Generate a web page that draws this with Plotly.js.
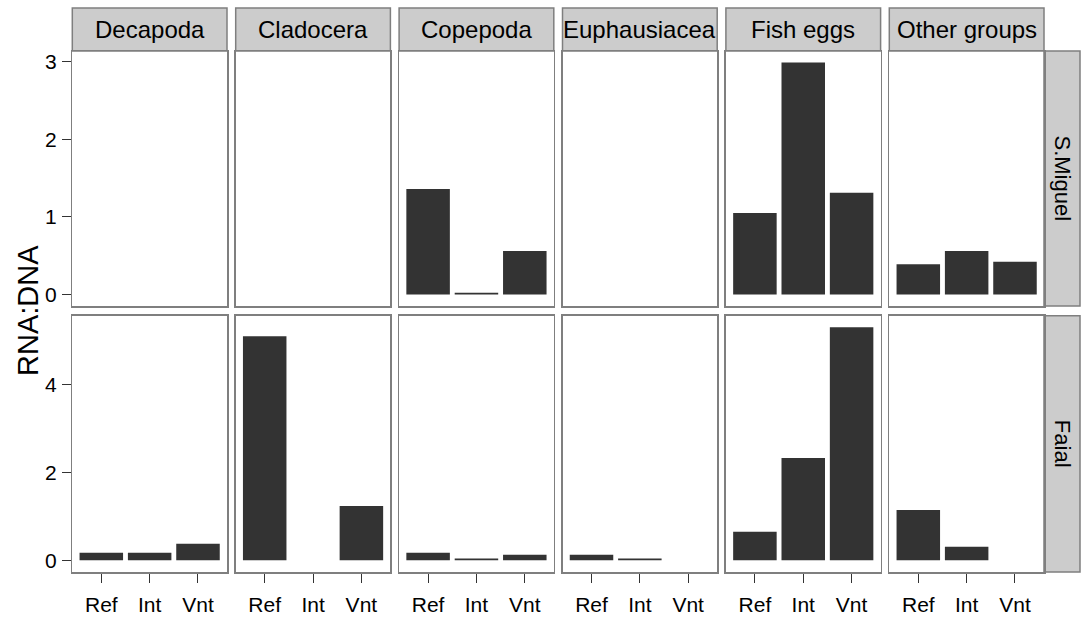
<!DOCTYPE html>
<html>
<head>
<meta charset="utf-8">
<script src="https://cdn.plot.ly/plotly-3.0.1.min.js"></script>
<style>html,body{margin:0;padding:0;background:#fff;}#chart{width:1081px;height:621px;}</style>
</head>
<body>
<div id="chart"></div>
<script>
// ---- data ----
const categories = ["Ref", "Int", "Vnt"];
const groups = ["Decapoda", "Cladocera", "Copepoda", "Euphausiacea", "Fish eggs", "Other groups"];
const sites = ["S.Miguel", "Faial"];
// RNA:DNA values per group (Ref, Int, Vnt); null = no bar
const sMiguelValues = [
  [null, null, null],
  [null, null, null],
  [1.36, 0.02, 0.56],
  [null, null, null],
  [1.05, 2.99, 1.31],
  [0.39, 0.56, 0.42]
];
const faialValues = [
  [0.175, 0.175, 0.38],
  [5.11, null, 1.24],
  [0.175, 0.045, 0.13],
  [0.13, 0.045, null],
  [0.65, 2.33, 5.31],
  [1.15, 0.31, null]
];
const rowValues = [sMiguelValues, faialValues];
const yTickSteps = [1, 2];
const yTitle = "RNA:DNA";

// ---- layout geometry (pixels) ----
const W = 1081, H = 621;
const colLeft0 = 72.3, colStride = 163.4, colWidth = 154.7;
const rowTop = [51, 315.7], rowBottom = [306, 572];
const stripTop = 8, rightStripLeft = 1044, rightStripRight = 1080;
const px = v => v / W;
const py = v => (H - v) / H;

const FONT = "Liberation Sans, Arial, Helvetica, sans-serif";
const borderColor = "#7f7f7f";
const stripFill = "#cccccc";

const traces = [];
const layout = {
  width: W, height: H,
  margin: {l: 0, r: 0, t: 0, b: 0},
  paper_bgcolor: "#ffffff",
  plot_bgcolor: "#ffffff",
  showlegend: false,
  bargap: 0.1,
  font: {family: FONT, size: 21, color: "#000000"},
  shapes: [],
  annotations: []
};

for (let r = 0; r < 2; r++) {
  const vals = rowValues[r];
  let maxV = 0;
  vals.forEach(a => a.forEach(v => { if (v !== null && v > maxV) maxV = v; }));
  const yRange = [-0.05 * maxV, maxV * 1.05];
  for (let c = 0; c < 6; c++) {
    const idx = r * 6 + c + 1;
    const xa = idx === 1 ? "x" : "x" + idx;
    const ya = idx === 1 ? "y" : "y" + idx;
    traces.push({
      type: "bar",
      x: categories,
      y: vals[c],
      xaxis: xa, yaxis: ya,
      width: 0.9,
      marker: {color: "#333333", line: {width: 0}},
      hoverinfo: "x+y"
    });
    const left = colLeft0 + c * colStride;
    const right = left + colWidth;
    layout[idx === 1 ? "xaxis" : "xaxis" + idx] = {
      domain: [px(left), px(right)],
      anchor: ya,
      type: "category",
      categoryorder: "array",
      categoryarray: categories,
      range: [-0.6, 2.6],
      showgrid: false, zeroline: false,
      showline: true, mirror: true, linecolor: borderColor, linewidth: 1.5,
      ticks: r === 1 ? "outside" : "",
      ticklen: 9, tickwidth: 1, tickcolor: "#333333",
      showticklabels: r === 1,
      ticklabelstandoff: 4,
      tickfont: {family: FONT, size: 21, color: "#000000"},
      fixedrange: true
    };
    layout[idx === 1 ? "yaxis" : "yaxis" + idx] = {
      domain: [py(rowBottom[r]), py(rowTop[r])],
      anchor: xa,
      range: yRange,
      dtick: yTickSteps[r], tick0: 0,
      showgrid: false, zeroline: false,
      showline: true, mirror: true, linecolor: borderColor, linewidth: 1.5,
      ticks: c === 0 ? "outside" : "",
      ticklen: 9, tickwidth: 1, tickcolor: "#333333",
      showticklabels: c === 0,
      ticklabelstandoff: 1,
      tickfont: {family: FONT, size: 21, color: "#000000"},
      fixedrange: true
    };
    // top strips (only first row)
    if (r === 0) {
      layout.shapes.push({
        type: "rect", xref: "paper", yref: "paper", layer: "below",
        x0: px(left), x1: px(right), y0: py(rowTop[0]), y1: py(stripTop),
        fillcolor: stripFill, line: {color: borderColor, width: 1.5}
      });
      layout.annotations.push({
        xref: "paper", yref: "paper",
        x: px((left + right) / 2), y: py((stripTop + rowTop[0]) / 2),
        xanchor: "center", yanchor: "middle", showarrow: false,
        text: groups[c],
        font: {family: FONT, size: 24, color: "#000000"}
      });
    }
  }
  // right strips
  layout.shapes.push({
    type: "rect", xref: "paper", yref: "paper", layer: "below",
    x0: px(rightStripLeft), x1: px(rightStripRight), y0: py(rowBottom[r]), y1: py(rowTop[r]),
    fillcolor: stripFill, line: {color: borderColor, width: 1.5}
  });
  layout.annotations.push({
    xref: "paper", yref: "paper",
    x: px((rightStripLeft + rightStripRight) / 2), y: py((rowTop[r] + rowBottom[r]) / 2),
    xanchor: "center", yanchor: "middle", showarrow: false,
    textangle: 90,
    text: sites[r],
    font: {family: FONT, size: 22, color: "#000000"}
  });
}

// y axis title
layout.annotations.push({
  xref: "paper", yref: "paper",
  x: px(28), y: py(311),
  xanchor: "center", yanchor: "middle", showarrow: false,
  textangle: -90,
  text: yTitle,
  font: {family: FONT, size: 29, color: "#000000"}
});

Plotly.newPlot("chart", traces, layout, {displayModeBar: false, staticPlot: true});
</script>
</body>
</html>
